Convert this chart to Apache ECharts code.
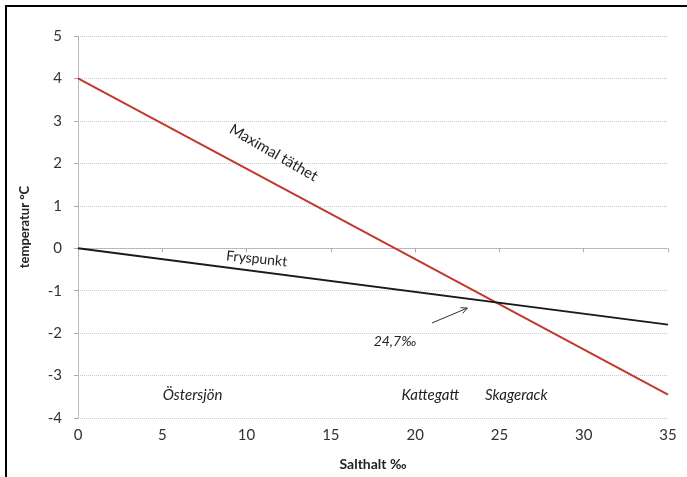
<!DOCTYPE html>
<html><head><meta charset="utf-8">
<script src="https://cdn.jsdelivr.net/npm/echarts@6/dist/echarts.min.js"></script>
<style>html,body{margin:0;padding:0;background:#fff}#c{width:687px;height:477px}</style>
</head><body><div id="c"></div>
<script>
const xTicks = [0,5,10,15,20,25,30,35];
const yTicks = [-4,-3,-2,-1,0,1,2,3,4,5];
const maxDensity = [[0,4],[35,-3.45]];
const freezePoint = [[0,0],[35,-1.8]];
const annotations = [
  {text:'Maximal täthet', x:11.6, y:2.25, rot:-30, italic:false, size:15},
  {text:'Fryspunkt', x:10.6, y:-0.25, rot:-6, italic:false, size:14},
  {text:'24,7‰', x:18.8, y:-2.19, rot:0, italic:true, size:14},
  {text:'Östersjön', x:6.8, y:-3.47, rot:0, italic:true, size:15},
  {text:'Kattegatt', x:20.9, y:-3.47, rot:0, italic:true, size:15},
  {text:'Skagerack', x:26.0, y:-3.47, rot:0, italic:true, size:15}
];
const arrow = [[21.0,-1.76],[23.1,-1.41]];
const FONT = 'Lato, "Open Sans", sans-serif';
const chart = echarts.init(document.getElementById('c'));
chart.setOption({
  animation:false,
  backgroundColor:'#fff',
  grid:{left:78,right:19,top:36,bottom:59},
  xAxis:{type:'value',min:0,max:35,interval:5,
    name:'Salthalt ‰',nameLocation:'middle',nameGap:39,
    nameTextStyle:{fontFamily:FONT,fontWeight:'bold',fontSize:14,color:'#222'},
    axisLine:{lineStyle:{color:'#aaa',type:'dotted'}},
    axisTick:{show:true,length:4,inside:false,lineStyle:{color:'#aaa'}},
    axisLabel:{fontFamily:FONT,fontSize:15,color:'#333',margin:10},
    splitLine:{show:false}},
  yAxis:{type:'value',min:-4,max:5,interval:1,
    name:'temperatur °C',nameLocation:'middle',nameGap:47,
    nameTextStyle:{fontFamily:FONT,fontWeight:'bold',fontSize:13,color:'#222'},
    axisLine:{show:true,lineStyle:{color:'#aaa',type:'dotted'}},
    axisTick:{show:true,length:4,lineStyle:{color:'#aaa'}},
    axisLabel:{fontFamily:FONT,fontSize:15,color:'#333',margin:16},
    splitLine:{show:true,lineStyle:{color:'#ccc',type:'dotted',width:1}}},
  series:[
    {type:'line',data:maxDensity,symbol:'none',lineStyle:{color:'#c0392b',width:2}},
    {type:'line',data:freezePoint,symbol:'none',lineStyle:{color:'#1a1a1a',width:2}}
  ]
});
const g = [];
g.push({type:'rect',shape:{x:6,y:6,width:700,height:500},style:{fill:'none',stroke:'#000',lineWidth:2},silent:true});
annotations.forEach(a=>{
  const p = chart.convertToPixel({gridIndex:0},[a.x,a.y]);
  g.push({type:'text',x:p[0],y:p[1],rotation:a.rot*Math.PI/180,
    style:{text:a.text,font:(a.italic?'italic ':'')+a.size+'px '+FONT,fill:'#222',align:'center',verticalAlign:'middle'}});
});
const a0 = chart.convertToPixel({gridIndex:0},arrow[0]);
const a1 = chart.convertToPixel({gridIndex:0},arrow[1]);
const ang = Math.atan2(a1[1]-a0[1],a1[0]-a0[0]);
const hl = 7;
g.push({type:'line',shape:{x1:a0[0],y1:a0[1],x2:a1[0],y2:a1[1]},style:{stroke:'#333',lineWidth:1}});
g.push({type:'polyline',shape:{points:[
  [a1[0]-hl*Math.cos(ang-0.45),a1[1]-hl*Math.sin(ang-0.45)],[a1[0],a1[1]],
  [a1[0]-hl*Math.cos(ang+0.45),a1[1]-hl*Math.sin(ang+0.45)]]},style:{stroke:'#333',lineWidth:1,fill:'none'}});
chart.setOption({graphic:g});
</script></body></html>
